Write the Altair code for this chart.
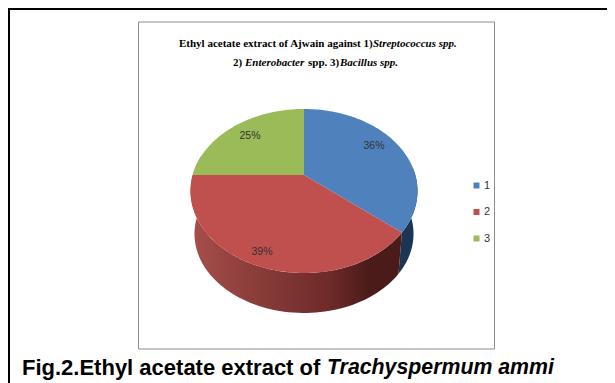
import numpy as np
import pandas as pd
import altair as alt

categories = ["1", "2", "3"]
values = [36, 39, 25]
colors = ["#4F81BD", "#C0504D", "#9BBB59"]
value_labels = ["36%", "39%", "25%"]

W, H = 599, 375   # page px from origin (8,8)
xs = alt.Scale(domain=[8, 8 + W], range=[0, W])
ys = alt.Scale(domain=[8, 8 + H], range=[0, H])
X = lambda f: alt.X(f, type="quantitative", scale=xs, axis=None)
Y = lambda f: alt.Y(f, type="quantitative", scale=ys, axis=None)

# perspective disc
CX, CY, A, B, K = 304.0, 175.0, 111.3, 78.9, 0.195
def disc(theta, shrink=1.0, dy=0.0):
    t = np.radians(theta)
    u, v = np.sin(t), np.cos(t)
    d = 1 + K * v
    return CX + shrink * A * u / d, CY + dy + shrink * B * (-v) / d

def feature(coords, **props):
    return {"type": "Feature", "properties": props,
            "geometry": {"type": "Polygon", "coordinates": [coords]}}

edges = np.cumsum([0] + values) * 3.6
tops = []
for c, a0, a1 in zip(categories, edges[:-1], edges[1:]):
    th = np.linspace(a0, a1, 90)
    px, py = disc(th)
    pts = [[CX, CY]] + [[float(a), float(b)] for a, b in zip(px, py)] + [[CX, CY]]
    tops.append(feature(pts, cat=c))

def side(a0, a1):
    th = np.linspace(a0, a1, 80)
    tx, ty = disc(th)
    bx, by = disc(th[::-1], 0.965, 43.4)
    pts = [[float(a), float(b)] for a, b in zip(np.r_[tx, bx], np.r_[ty, by])]
    pts.append(pts[0])
    return feature(pts)

proj = alt.Projection(type="identity", scale=1, translate=[-8, -8])

def geo(feats):
    return alt.Chart(alt.Data(values=feats, format=alt.DataFormat(type="json")))

blue_side = geo([side(85, edges[1])]).mark_geoshape(fill="#1B3653", stroke=None).project(**proj.to_dict())
red_grad = alt.Gradient(gradient="linear", x1=0, y1=0, x2=1, y2=0, stops=[
    alt.GradientStop(color="#A64F4C", offset=0),
    alt.GradientStop(color="#8B3D3A", offset=0.3),
    alt.GradientStop(color="#6E2B29", offset=0.65),
    alt.GradientStop(color="#4A1B19", offset=0.85),
    alt.GradientStop(color="#4A1B19", offset=1)])
red_side = geo([side(edges[1], 285)]).mark_geoshape(fill=red_grad, stroke=None).project(**proj.to_dict())

top = geo(tops).mark_geoshape(stroke=None).encode(
    color=alt.Color("properties.cat:N",
                    scale=alt.Scale(domain=categories, range=colors),
                    legend=alt.Legend(orient="none", legendX=463, legendY=172, title=None,
                                      symbolType="square", symbolSize=36, symbolStrokeWidth=0,
                                      labelFont="Liberation Sans", labelFontSize=11,
                                      labelColor="#333333", rowPadding=14.5, labelOffset=2))
).project(**proj.to_dict())

frame = alt.Chart(pd.DataFrame({"x": [138.5], "x2": [494.5], "y": [22], "y2": [349]})).mark_rect(
    fill="white", stroke="#8C8C8C", strokeWidth=1).encode(
    x=X("x"), x2="x2", y=Y("y"), y2="y2")

border_h = alt.Chart(pd.DataFrame({"x": [8], "x2": [607], "y": [8], "y2": [10]})).mark_rect(color="black").encode(
    x=X("x"), x2="x2", y=Y("y"), y2="y2")
border_v = alt.Chart(pd.DataFrame({"x": [8], "x2": [10], "y": [8], "y2": [383]})).mark_rect(color="black").encode(
    x=X("x"), x2="x2", y=Y("y"), y2="y2")

def text(rows, **kw):
    df = pd.DataFrame(rows, columns=["t", "x", "y"])
    return alt.Chart(df).mark_text(align="left", baseline="middle", **kw).encode(
        x=X("x"), y=Y("y"), text="t:N")

pct_x = [374, 262, 250]
pct_y = [146, 252, 136]
pct = alt.Chart(pd.DataFrame({"t": value_labels, "x": pct_x, "y": pct_y})).mark_text(
    font="Liberation Sans", fontSize=10.5, color="#333333").encode(
    x=X("x"), y=Y("y"), text="t:N")

serif = dict(font="Liberation Serif", fontSize=11, fontWeight="bold", color="black")
title_b = text([["Ethyl acetate extract of Ajwain against 1)", 179, 44],
                ["2)", 233, 63], ["spp. 3)", 308, 63]], **serif)
title_i = text([["Streptococcus spp.", 373, 44], ["Enterobacter", 245, 63],
                ["Bacillus spp.", 340, 63]], fontStyle="italic", **serif)

cap_b = text([["Fig.2.Ethyl acetate extract of", 22, 368]],
             font="Liberation Sans", fontSize=22, fontWeight="bold", color="black")
cap_i = text([["Trachyspermum ammi", 327, 368]],
             font="Liberation Sans", fontSize=21.3, fontWeight="bold", color="black", fontStyle="italic")

chart = alt.layer(
    border_h, border_v, frame, blue_side, red_side, top, pct,
    title_b, title_i, cap_b, cap_i).properties(
    width=W, height=H, padding=0, autosize=alt.AutoSizeParams(type="none"), background="white"
).configure_view(stroke=None)

chart.save("out.html", embed_options={"renderer": "svg", "actions": False})
